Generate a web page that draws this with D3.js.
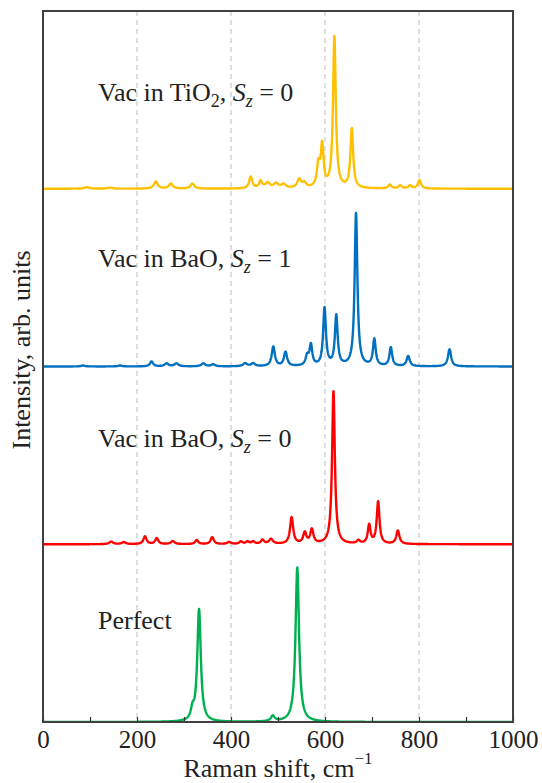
<!DOCTYPE html>
<html>
<head>
<meta charset="utf-8">
<script src="https://cdn.jsdelivr.net/npm/d3@7"></script>
<style>
	body { margin: 0; background: #fff; }
	svg text { font-family: 'Liberation Serif', 'Times New Roman', serif; fill: #222; }
</style>
</head>
<body>
<svg id="raman" width="542" height="783"></svg>
<script>
// peaks: [shift cm-1, intensity (tallest = 100), half width]
const perfectPeaks = [
	[318, 6, 4], [332, 72, 4.5], [489, 3.5, 5], [541, 99, 4.5]
];
const baoS0Peaks = [
	[145, 1.6, 5], [172, 1.3, 5], [217, 5, 4], [242, 3.8, 4], [276, 1.9, 5],
	[327, 2.6, 4], [360, 4.5, 4], [396, 1.3, 5], [421, 1.6, 4], [435, 1.6, 4],
	[447, 1.6, 4], [467, 2.6, 4], [485, 3.2, 5], [529, 17, 4], [557, 7, 4],
	[572, 9, 4], [618, 98, 3.5], [671, 2, 4], [694, 12, 3.5], [713, 27, 3.5],
	[755, 8.5, 4]
];
const baoS1Peaks = [
	[85, 0.6, 5], [164, 0.6, 5], [231, 3.2, 4], [263, 1.9, 5], [284, 1.9, 5],
	[341, 1.9, 5], [362, 1.3, 5], [430, 1.9, 5], [447, 1.9, 5], [490, 12.5, 4],
	[516, 9, 4], [562, 6, 4], [570, 13, 3.5], [599, 37, 3.5], [624, 32, 3.5],
	[666, 98, 3.5], [705, 17, 3.5], [740, 12, 3.5], [777, 6.5, 4], [865, 11, 4]
];
const tio2Peaks = [
	[93, 1, 6], [143, 0.7, 6], [240, 4.5, 5], [272, 3.2, 5], [318, 3.2, 5],
	[442, 7.5, 4], [463, 4.5, 4], [478, 3.5, 6], [496, 3, 6], [512, 2.5, 6],
	[545, 5.5, 5], [556, 3, 5], [586, 14, 4], [594, 26, 3.5], [620, 97, 3.5],
	[657, 38, 3.5], [738, 2.5, 4], [760, 2, 4], [781, 2, 4], [801, 5.5, 4]
];

const spectra = [
	{ name: 'perfect', peaks: perfectPeaks, offset: 0, color: '#00B050' },
	{ name: 'baoS0', peaks: baoS0Peaks, offset: 114, color: '#FF0000' },
	{ name: 'baoS1', peaks: baoS1Peaks, offset: 228, color: '#0070C0' },
	{ name: 'tio2', peaks: tio2Peaks, offset: 342, color: '#FFC000' }
];
const xTicks = d3.range(0, 1001, 100);
const gridTicks = [200, 400, 600, 800];

const margin = { top: 11, right: 29, bottom: 61, left: 43 };
const svg = d3.select('svg#raman');
const width = +svg.attr('width') - margin.left - margin.right;
const height = +svg.attr('height') - margin.top - margin.bottom;

const x = d3.scaleLinear([0, 1000], [0, width]);
const y = d3.scaleLinear([0, 456], [height, 0]);

const g = svg.append('g').attr('transform', `translate(${margin.left},${margin.top})`);

g.append('clipPath').attr('id', 'plot-clip')
	.append('rect').attr('width', width).attr('height', height);

g.selectAll('line.grid').data(gridTicks).join('line')
	.attr('class', 'grid')
	.attr('x1', d => x(d)).attr('x2', d => x(d))
	.attr('y1', 0).attr('y2', height)
	.attr('stroke', '#c8c8c8').attr('stroke-width', 1.2).attr('stroke-dasharray', '5,4');

// lorentzian broadening of each mode list
const grid = d3.range(0, 1000.01, 0.5);
const line = d3.line().x(d => x(d[0])).y(d => y(d[1]));
spectra.forEach(s => {
	const pts = grid.map(v => {
		let sum = 0;
		s.peaks.forEach(([p, h, w]) => { sum += h * w * w / ((v - p) * (v - p) + w * w); });
		return [v, s.offset + sum];
	});
	g.append('path')
		.datum(pts)
		.attr('clip-path', 'url(#plot-clip)')
		.attr('fill', 'none')
		.attr('stroke', s.color)
		.attr('stroke-width', 2.4)
		.attr('stroke-linejoin', 'round')
		.attr('d', line);
});

const xAxis = g.append('g')
	.attr('transform', `translate(0,${height})`)
	.call(d3.axisBottom(x).tickValues(xTicks).tickSize(-5).tickPadding(8)
		.tickFormat(d => d % 200 === 0 ? d : ''));
xAxis.select('.domain').remove();
xAxis.selectAll('.tick line').attr('stroke', '#333').attr('stroke-width', 1.2);
xAxis.selectAll('.tick text').attr('font-size', 25).attr('fill', '#222')
	.attr('font-family', "'Liberation Serif', serif");

g.append('rect')
	.attr('width', width).attr('height', height)
	.attr('fill', 'none').attr('stroke', '#404040').attr('stroke-width', 2);

// spectrum labels
const labelX = x(117);
function label (ty, parts) {
	const t = g.append('text').attr('x', labelX).attr('y', ty).attr('font-size', 26);
	parts.forEach(p => {
		const ts = t.append('tspan').text(p.t);
		if (p.i) ts.attr('font-style', 'italic');
		if (p.sub) ts.attr('font-size', 18).attr('dy', 6);
		if (p.back) ts.attr('dy', -6);
	});
}
label(y(342) - 88, [{ t: 'Vac in TiO' }, { t: '2', sub: true }, { t: ', ', back: true }, { t: 'S', i: true }, { t: 'z', i: true, sub: true }, { t: ' = 0', back: true }]);
label(y(228) - 100, [{ t: 'Vac in BaO, ' }, { t: 'S', i: true }, { t: 'z', i: true, sub: true }, { t: ' = 1', back: true }]);
label(y(114) - 97, [{ t: 'Vac in BaO, ' }, { t: 'S', i: true }, { t: 'z', i: true, sub: true }, { t: ' = 0', back: true }]);
label(y(0) - 93, [{ t: 'Perfect' }]);

// axis titles
const xt = svg.append('text')
	.attr('x', margin.left + width / 2).attr('y', 777)
	.attr('text-anchor', 'middle').attr('font-size', 26);
xt.append('tspan').text('Raman shift, cm');
xt.append('tspan').text('\u22121').attr('font-size', 17).attr('dy', -13);

svg.append('text')
	.attr('transform', `translate(30,350) rotate(-90)`)
	.attr('text-anchor', 'middle').attr('font-size', 26)
	.text('Intensity, arb. units');
</script>
</body>
</html>
